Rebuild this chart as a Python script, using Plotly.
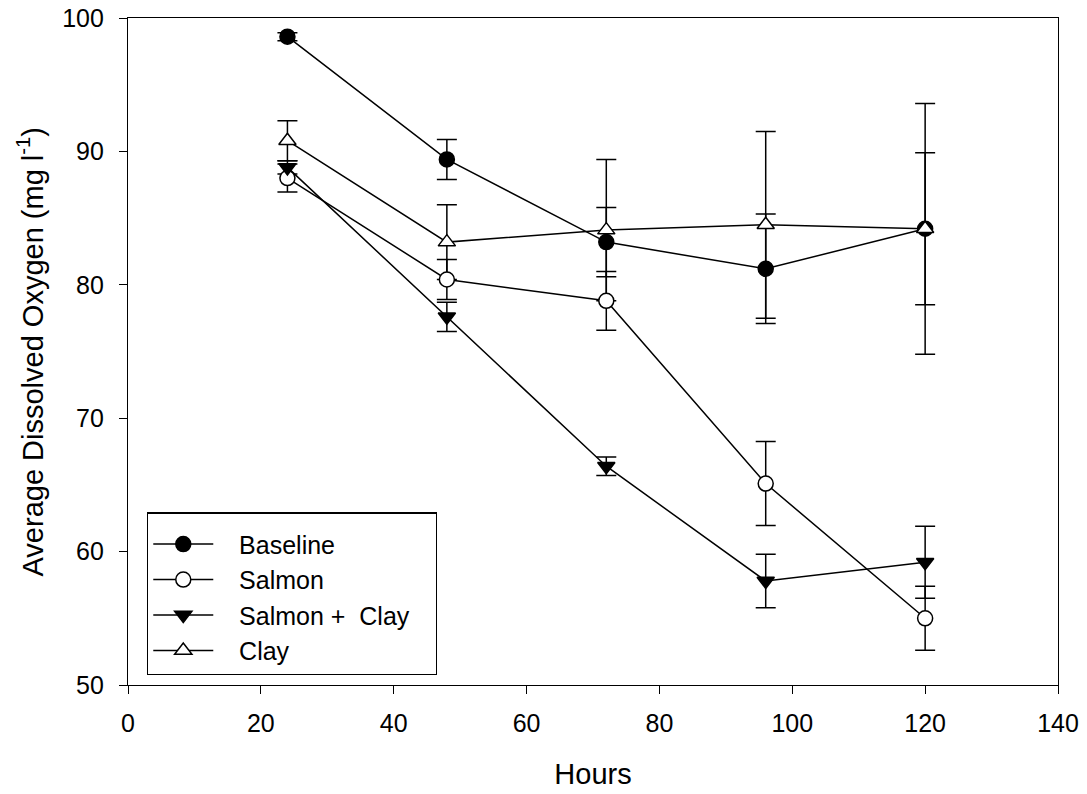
import plotly.graph_objects as go

hours = [24, 48, 72, 96, 120]

baseline = [98.6, 89.4, 83.2, 81.2, 84.2]
baseline_err = [0.3, 1.5, 2.6, 4.1, 9.4]

salmon = [88.0, 80.4, 78.8, 65.1, 55.0]
salmon_err = [1.05, 1.5, 2.2, 3.15, 2.4]

salmon_clay = [88.8, 77.6, 66.4, 57.8, 59.2]
salmon_clay_err = [0.5, 1.1, 0.7, 2.0, 2.7]

clay = [90.8, 83.2, 84.1, 84.5, 84.2]
clay_err = [1.5, 2.8, 5.3, 7.0, 5.7]

NB = "\u00a0"
series = [
    ("Baseline", baseline, baseline_err, "circle", "black"),
    ("Salmon", salmon, salmon_err, "circle", "white"),
    ("Salmon +  Clay", salmon_clay, salmon_clay_err, "triangle-down", "black"),
    ("Clay", clay, clay_err, "triangle-up", "white"),
]

FONT = "Liberation Sans, Arial, sans-serif"

fig = go.Figure()
# error bars (drawn beneath lines and markers, not shown in legend)
for name, vals, errs, sym, fill in series:
    fig.add_trace(go.Scatter(
        x=hours, y=vals, mode="markers", showlegend=False, hoverinfo="skip",
        marker=dict(size=1, color="rgba(0,0,0,0)"),
        error_y=dict(type="data", array=errs, visible=True,
                     color="black", thickness=1.5, width=10),
    ))
for name, vals, errs, sym, fill in series:
    label = NB * 3 + name.replace("  ", " " + NB)
    if name.startswith("Salmon +"):
        label += NB * 3
    fig.add_trace(go.Scatter(
        x=hours, y=vals, name=label, mode="lines+markers",
        line=dict(color="black", width=1.5),
        marker=dict(symbol=sym, size=15, color=fill,
                    line=dict(color="black", width=1.5)),
    ))

axis_common = dict(
    showline=True, linecolor="black", linewidth=1.3, mirror=True,
    ticks="outside", ticklen=8, tickwidth=1.3, tickcolor="black",
    showgrid=False, zeroline=False, automargin=False,
    tickfont=dict(family=FONT, size=25, color="black"),
)

fig.update_layout(
    width=1087, height=794,
    margin=dict(l=128, r=29, t=18, b=109),
    plot_bgcolor="white", paper_bgcolor="white",
    font=dict(family=FONT, color="black"),
    xaxis=dict(range=[0, 140], tick0=0, dtick=20, ticklabelstandoff=8,
               title=dict(text="Hours", font=dict(family=FONT, size=29), standoff=27),
               **axis_common),
    yaxis=dict(range=[50, 100], tick0=50, dtick=10, ticklabelstandoff=10,
               **axis_common),
    legend=dict(
        x=0.0204, y=0.259, xanchor="left", yanchor="top",
        bordercolor="black", borderwidth=1.3, bgcolor="white",
        font=dict(family=FONT, size=25, color="black"),
        title=dict(text=NB, font=dict(size=6)),
        itemwidth=60,
    ),
    showlegend=True,
    annotations=[dict(
        text="Average Dissolved Oxygen (mg l<sup>-1</sup>)",
        xref="paper", yref="paper", x=-0.1054, y=0.5,
        xanchor="center", yanchor="middle", textangle=-90, showarrow=False,
        font=dict(family=FONT, size=29, color="black"),
    )],
)

fig.write_html("out.html")
